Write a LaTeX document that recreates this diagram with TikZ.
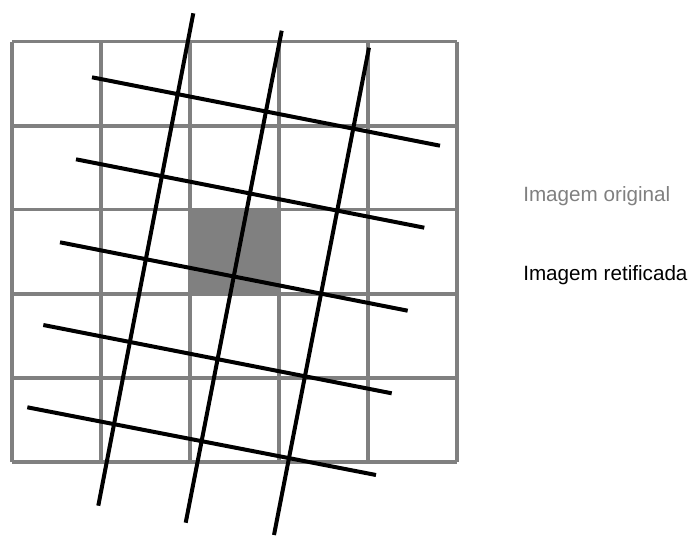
\documentclass[tikz,border=0pt]{standalone}
\usepackage{fontspec}
\setmainfont{Liberation Sans}
\definecolor{gridgray}{HTML}{808080}
\begin{document}
\begin{tikzpicture}[x=0.75pt,y=-0.75pt,
  gridline/.style={draw=gridgray,line width=2.8pt},
  rectline/.style={draw=black,line width=3pt},
  lbl/.style={anchor=base west,inner sep=0pt,font=\fontsize{15.5pt}{18pt}\selectfont}]
\useasboundingbox (0,0) rectangle (694,536);
% shaded cell
\fill[gridgray] (190,209.5) rectangle (279,294);
% original grid
\foreach \x in {12.3,101,190,279,368.3,456.7}
  \draw[gridline] (\x,41.5) -- (\x,462);
\foreach \y in {41.5,125.7,209.5,294,377.7,462}
  \draw[gridline] (12.3,\y) -- (456.7,\y);
% rectified grid
\draw[rectline] (193.3,13.3) -- (98.3,505.7);
\draw[rectline] (281.7,30.7) -- (185.7,522.7);
\draw[rectline] (369,47.7) -- (274,535);
\draw[rectline] (92,77.3) -- (440,145.7);
\draw[rectline] (76,159.3) -- (424.3,227.7);
\draw[rectline] (60,242.3) -- (407.7,310.7);
\draw[rectline] (43.3,325) -- (391.7,393.3);
\draw[rectline] (27.3,407.3) -- (376,475);
% legend
\node[lbl,text=gridgray] (orig) at (523,201.5) {Imagem original};
\node[lbl] (ret) at (523,280.5) {Imagem retificada};
\end{tikzpicture}
\end{document}
